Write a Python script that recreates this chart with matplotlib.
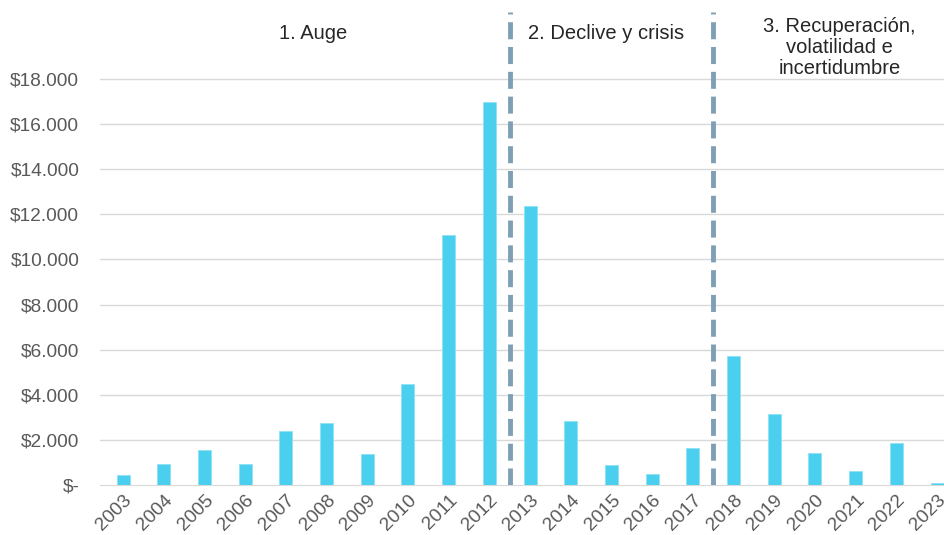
import matplotlib.pyplot as plt
from matplotlib.ticker import FuncFormatter

plt.rcParams['font.family'] = ['Liberation Sans', 'DejaVu Sans']

# Datos (millones de USD, aprox.)
years = [str(y) for y in range(2003, 2024)]
values = [450, 950, 1550, 950, 2400, 2750, 1360, 4480, 11080, 16980,
          12370, 2820, 900, 490, 1640, 5720, 3150, 1430, 620, 1880, 100]
phase_breaks = [9.5, 14.5]
phase_labels = ["1. Auge", "2. Declive y crisis",
                "3. Recuperación,\nvolatilidad e\nincertidumbre"]
phase_centers = [4.67, 11.87, 17.6]

fig = plt.figure(figsize=(9.44, 5.35), dpi=100)
ax = fig.add_axes([0.106, 0.0935, 0.894, 0.884])

x = range(len(years))
ax.bar(x, values, width=0.32, color='#4acfee', edgecolor='#8fe2f5', linewidth=0.6, zorder=3)

ax.set_xlim(-0.565, 20.17)
ax.set_ylim(0, 20966)
ax.set_yticks(range(0, 18001, 2000))

def fmt(v, pos):
    if v == 0:
        return '$-'
    return '$' + f'{int(v):,}'.replace(',', '.')

ax.yaxis.set_major_formatter(FuncFormatter(fmt))
ax.set_xticks(list(x))
ax.set_xticklabels(years, rotation=45, ha='right', rotation_mode='anchor')

ax.tick_params(axis='y', length=0, pad=15, labelsize=13.8, labelcolor='#595959')
ax.tick_params(axis='x', length=0, pad=5, labelsize=13.8, labelcolor='#595959')

for v in range(2000, 18001, 2000):
    ax.axhline(v, color='#d9d9d9', linewidth=1, zorder=1)

for s in ['top', 'right', 'left']:
    ax.spines[s].set_visible(False)
ax.spines['bottom'].set_color('#d9d9d9')

for b in phase_breaks:
    ax.axvline(b, color='#7f9fb5', linewidth=3.5, linestyle=(0, (3.5, 1.6)), zorder=4)

ax.text(phase_centers[0], 20000, phase_labels[0], ha='center', va='center',
        fontsize=14.5, color='#262626')
ax.text(phase_centers[1], 20000, phase_labels[1], ha='center', va='center',
        fontsize=14.5, color='#262626')
ax.text(phase_centers[2], 20750, phase_labels[2], ha='center', va='top',
        fontsize=14.5, color='#262626', linespacing=1.12)

fig.savefig('out.png', dpi=100)
